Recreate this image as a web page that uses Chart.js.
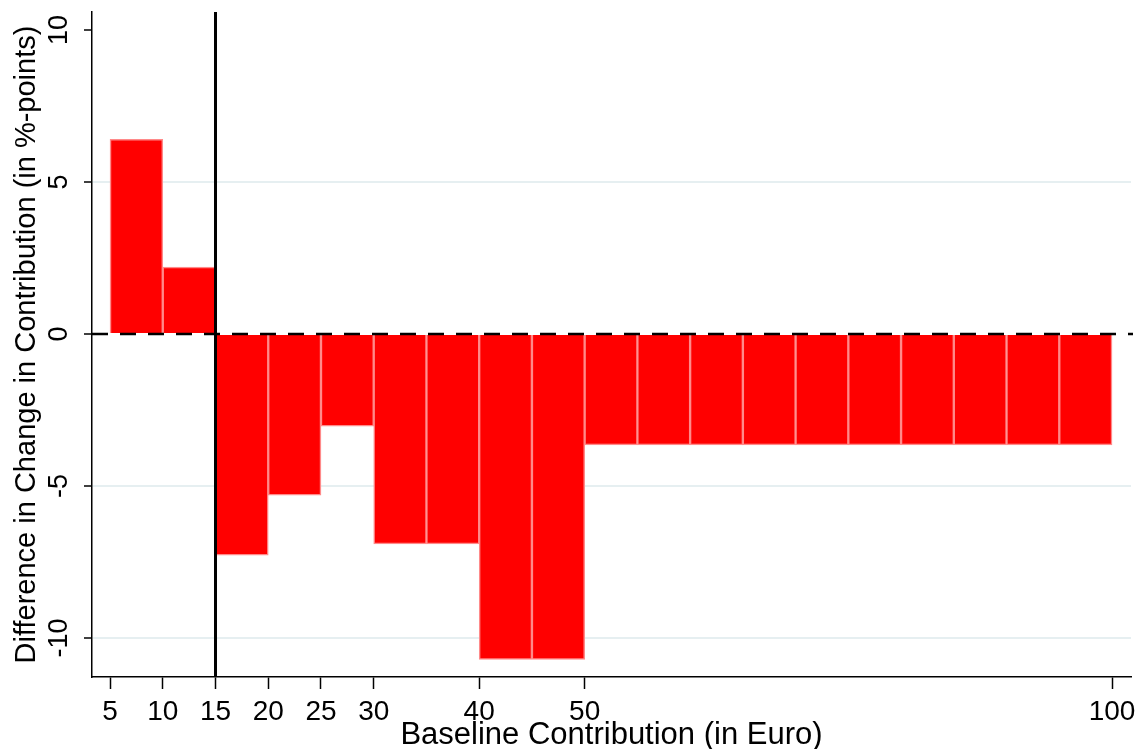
<!DOCTYPE html>
<html>
<head>
<meta charset="utf-8">
<script src="https://cdn.jsdelivr.net/npm/chart.js@4/dist/chart.umd.min.js"></script>
<style>
  html, body { margin: 0; padding: 0; background: #fff; }
  #wrap { width: 1141px; height: 749px; }
</style>
</head>
<body>
<div id="wrap"><canvas id="diffChart" width="1141" height="749"></canvas></div>
<script>
// bins of 5 euro, start of each bin
var binStarts = [5, 10, 15, 20, 25, 30, 35, 40, 45, 50, 55, 60, 65, 70, 75, 80, 85, 90, 95];
var binWidth = 5;
var diffValues = [6.4, 2.2, -7.27, -5.3, -3.03, -6.9, -6.9, -10.7, -10.7,
                  -3.65, -3.65, -3.65, -3.65, -3.65, -3.65, -3.65, -3.65, -3.65, -3.65];
var xTickValues = [5, 10, 15, 20, 25, 30, 40, 50, 100];
var yTickValues = [-10, -5, 0, 5, 10];
var refLineX = 15;
var baseLineY = 0;

var barData = binStarts.map(function (s, i) {
    return { x: s + binWidth / 2, y: diffValues[i] };
});

// reference lines: dashed zero line and solid vertical line
var refLines = {
    id: 'refLines',
    afterDatasetsDraw: function (chart) {
        var c = chart.ctx;
        var area = chart.chartArea;
        var y0 = chart.scales.y.getPixelForValue(baseLineY);
        var x15 = chart.scales.x.getPixelForValue(refLineX);
        c.save();
        c.beginPath();
        c.setLineDash([16, 12]);
        c.lineWidth = 2.5;
        c.strokeStyle = '#000';
        c.moveTo(area.left, y0);
        c.lineTo(area.right + 2, y0);
        c.stroke();
        c.beginPath();
        c.setLineDash([]);
        c.lineWidth = 3;
        c.moveTo(x15, area.top);
        c.lineTo(x15, area.bottom);
        c.stroke();
        c.restore();
    }
};

var font = "'Liberation Sans', Arial, sans-serif";

new Chart(document.getElementById('diffChart'), {
    type: 'bar',
    data: {
        datasets: [{
            data: barData,
            backgroundColor: '#ff0000',
            borderColor: '#ff8a8a',
            borderWidth: 1.5,
            barPercentage: 1,
            categoryPercentage: 1
        }]
    },
    options: {
        responsive: false,
        animation: false,
        layout: { padding: { top: 12, right: 10, left: 0, bottom: 0 } },
        plugins: { legend: { display: false }, tooltip: { enabled: false } },
        scales: {
            x: {
                type: 'linear',
                offset: false,
                min: 3.29,
                max: 101.8,
                afterBuildTicks: function (s) {
                    s.ticks = xTickValues.map(function (v) { return { value: v }; });
                },
                afterFit: function (s) {
                    s.height = 72;
                    s.paddingLeft = 0;
                    s.paddingRight = 0;
                },
                grid: {
                    offset: false,
                    drawOnChartArea: false,
                    tickLength: 12,
                    tickColor: '#000',
                    tickWidth: 1.5
                },
                border: { color: '#000', width: 1.5 },
                ticks: {
                    color: '#000',
                    padding: 6,
                    maxRotation: 0,
                    autoSkip: false,
                    font: { family: font, size: 28 }
                },
                title: {
                    display: true,
                    text: 'Baseline Contribution (in Euro)',
                    color: '#000',
                    padding: 0,
                    font: { family: font, size: 31, lineHeight: 0.85 }
                }
            },
            y: {
                min: -11.28,
                max: 10.59,
                afterBuildTicks: function (s) {
                    s.ticks = yTickValues.map(function (v) { return { value: v }; });
                },
                afterFit: function (s) {
                    s.width = 92;
                    s.paddingTop = 0;
                    s.paddingBottom = 0;
                },
                grid: {
                    color: function (ctx) {
                        var v = ctx.tick ? ctx.tick.value : null;
                        return (v === 0 || v === 10) ? 'rgba(0,0,0,0)' : '#e6eff1';
                    },
                    lineWidth: 2,
                    tickLength: 8,
                    tickColor: '#000',
                    tickWidth: 1.5
                },
                border: { color: '#000', width: 1.5 },
                ticks: {
                    color: '#000',
                    padding: 5,
                    minRotation: 90,
                    maxRotation: 90,
                    crossAlign: 'center',
                    autoSkip: false,
                    font: { family: font, size: 27 }
                },
                title: {
                    display: true,
                    text: 'Difference in Change in Contribution (in %-points)',
                    color: '#000',
                    padding: { top: 10 },
                    font: { family: font, size: 29 }
                }
            }
        }
    },
    plugins: [refLines]
});
</script>
</body>
</html>
